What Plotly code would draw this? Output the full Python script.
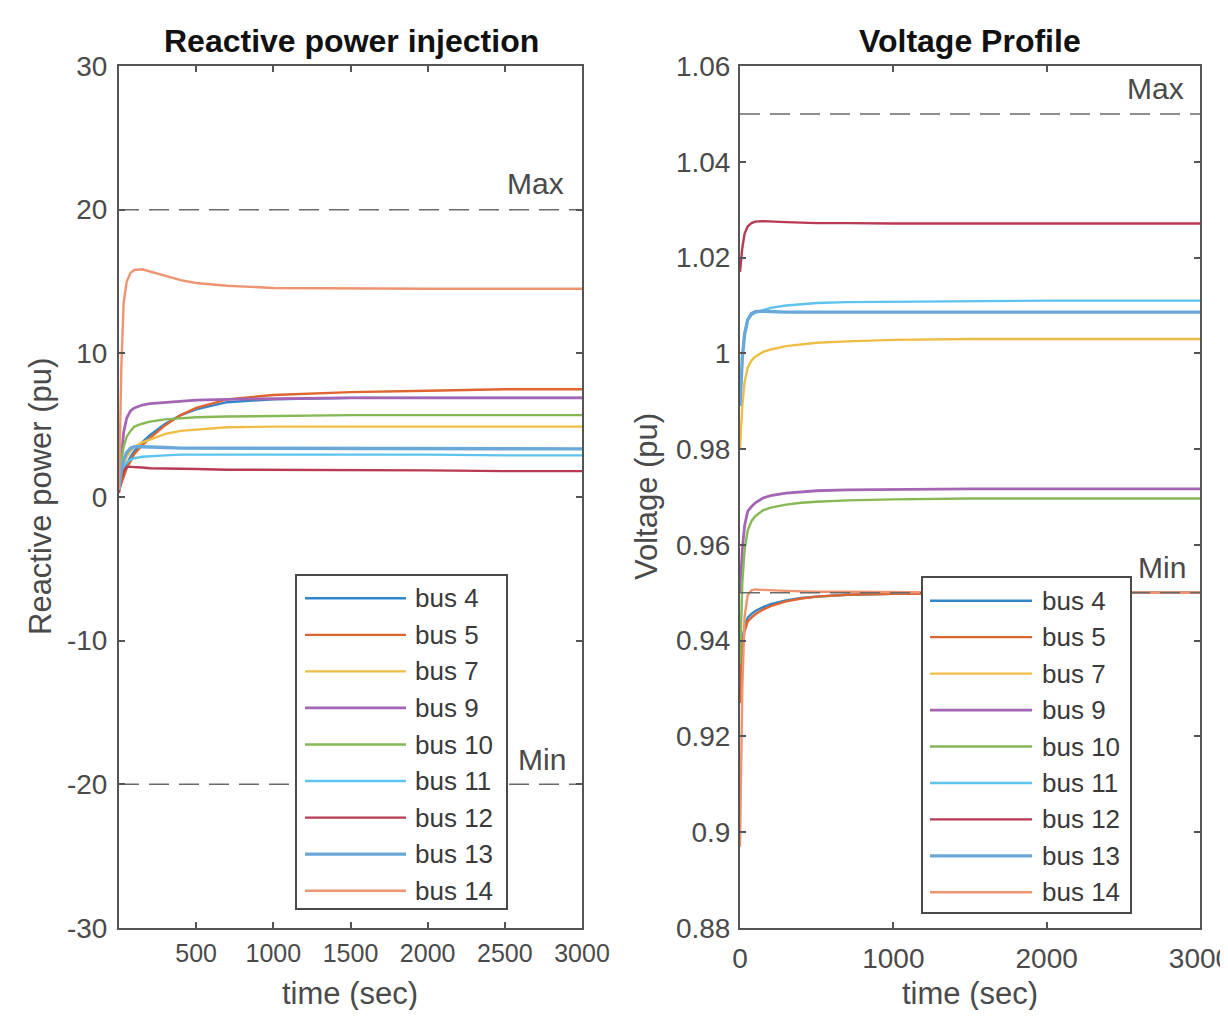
import plotly.graph_objects as go

# ---------------- data ----------------
t = [0, 15, 30, 50, 75, 100, 150, 200, 300, 400, 500, 700, 1000, 1500, 2000, 2500, 3000]

buses = ["bus 4", "bus 5", "bus 7", "bus 9", "bus 10", "bus 11", "bus 12", "bus 13", "bus 14"]
colors = ["#2f86c8", "#de6530", "#efbd45", "#a466b4", "#86b854", "#5cc4ee", "#b83a55", "#6aa8da", "#ef9470"]
widths = [2.4, 2.4, 2.4, 2.8, 2.4, 2.4, 2.4, 3.4, 2.4]

q_bus4 = [0.8, 1.3, 1.8, 2.3, 2.8, 3.2, 3.8, 4.3, 5.1, 5.7, 6.1, 6.6, 6.8, 6.9, 6.9, 6.9, 6.9]
q_bus5 = [0.5, 1.0, 1.5, 2.0, 2.5, 3.0, 3.6, 4.1, 5.0, 5.7, 6.2, 6.8, 7.1, 7.3, 7.4, 7.5, 7.5]
q_bus7 = [0.6, 1.5, 2.2, 2.8, 3.2, 3.5, 3.8, 4.0, 4.4, 4.6, 4.7, 4.85, 4.9, 4.9, 4.9, 4.9, 4.9]
q_bus9 = [0.8, 3.0, 4.5, 5.5, 6.0, 6.2, 6.4, 6.5, 6.6, 6.7, 6.75, 6.8, 6.85, 6.9, 6.9, 6.9, 6.9]
q_bus10 = [0.8, 2.5, 3.5, 4.2, 4.6, 4.9, 5.1, 5.25, 5.4, 5.5, 5.55, 5.6, 5.65, 5.7, 5.7, 5.7, 5.7]
q_bus11 = [0.5, 1.5, 2.1, 2.4, 2.6, 2.7, 2.8, 2.85, 2.9, 2.95, 2.95, 3.0, 3.0, 3.0, 2.95, 2.9, 2.9]
q_bus12 = [0.3, 1.2, 1.8, 2.1, 2.1, 2.1, 2.05, 2.0, 2.0, 1.95, 1.95, 1.9, 1.9, 1.85, 1.85, 1.8, 1.8]
q_bus13 = [0.5, 1.8, 2.6, 3.1, 3.4, 3.5, 3.5, 3.5, 3.45, 3.4, 3.4, 3.4, 3.4, 3.4, 3.4, 3.35, 3.35]
q_bus14 = [0.5, 9.0, 13.5, 15.0, 15.6, 15.8, 15.85, 15.7, 15.4, 15.1, 14.9, 14.7, 14.55, 14.5, 14.5, 14.5, 14.5]

v_bus4 = [0.930, 0.940, 0.943, 0.9448, 0.9456, 0.9462, 0.9470, 0.9476, 0.9484, 0.9489, 0.9492, 0.9496, 0.9498, 0.9500, 0.9500, 0.9500, 0.9500]
v_bus5 = [0.927, 0.939, 0.942, 0.944, 0.9448, 0.9455, 0.9465, 0.9472, 0.9482, 0.9488, 0.9492, 0.9496, 0.9498, 0.9499, 0.9500, 0.9500, 0.9500]
v_bus7 = [0.980, 0.989, 0.994, 0.997, 0.9985, 0.9993, 1.0003, 1.0008, 1.0015, 1.0019, 1.0022, 1.0025, 1.0028, 1.0030, 1.0030, 1.0030, 1.0030]
v_bus9 = [0.950, 0.959, 0.964, 0.967, 0.968, 0.9688, 0.9698, 0.9703, 0.9708, 0.9711, 0.9713, 0.9715, 0.9716, 0.9717, 0.9717, 0.9717, 0.9717]
v_bus10 = [0.935, 0.952, 0.959, 0.963, 0.965, 0.966, 0.9672, 0.9678, 0.9684, 0.9688, 0.9690, 0.9693, 0.9695, 0.9697, 0.9697, 0.9697, 0.9697]
v_bus11 = [0.989, 0.999, 1.004, 1.007, 1.008, 1.0085, 1.0090, 1.0095, 1.0100, 1.0103, 1.0105, 1.0107, 1.0108, 1.0109, 1.0110, 1.0110, 1.0110]
v_bus12 = [1.017, 1.022, 1.025, 1.0265, 1.0272, 1.0275, 1.0276, 1.0275, 1.0274, 1.0273, 1.0272, 1.0272, 1.0271, 1.0271, 1.0271, 1.0271, 1.0271]
v_bus13 = [0.989, 0.999, 1.004, 1.0070, 1.0083, 1.0087, 1.0088, 1.0087, 1.0086, 1.0086, 1.0086, 1.0086, 1.0086, 1.0086, 1.0086, 1.0086, 1.0086]
v_bus14 = [0.897, 0.930, 0.945, 0.9495, 0.9505, 0.9507, 0.9506, 0.9505, 0.9504, 0.9503, 0.9502, 0.9502, 0.9501, 0.9500, 0.9500, 0.9500, 0.9500]

q_series = [q_bus4, q_bus5, q_bus7, q_bus9, q_bus10, q_bus11, q_bus12, q_bus13, q_bus14]
v_series = [v_bus4, v_bus5, v_bus7, v_bus9, v_bus10, v_bus11, v_bus12, v_bus13, v_bus14]

q_limits = [20, -20]
v_limits = [1.05, 0.95]

q_xticks = [500, 1000, 1500, 2000, 2500, 3000]
q_yticks = [-30, -20, -10, 0, 10, 20, 30]
q_yticktext = ["-30", "-20", "-10", "0", "10", "20", "30"]
v_xticks = [0, 1000, 2000, 3000]
v_yticks = [0.88, 0.90, 0.92, 0.94, 0.96, 0.98, 1.00, 1.02, 1.04, 1.06]
v_yticktext = ["0.88", "0.9", "0.92", "0.94", "0.96", "0.98", "1", "1.02", "1.04", "1.06"]

# ---------------- figure ----------------
OFF = 8                       # default page (body) margin
W, H = 1220, 1002
FONT = "Liberation Sans, Arial, Helvetica, sans-serif"
AX = "#555555"
TXT = "#4a4a4a"

def px(x):
    return (x - OFF) / W

def py(y):
    return 1 - (y - OFF) / H

fig = go.Figure()

for name, col, w, q in zip(buses, colors, widths, q_series):
    fig.add_trace(go.Scatter(x=t, y=q, mode="lines", name=name, showlegend=False,
                             line=dict(color=col, width=w), xaxis="x", yaxis="y"))
for name, col, w, v in zip(buses, colors, widths, v_series):
    fig.add_trace(go.Scatter(x=t, y=v, mode="lines", name=name, showlegend=False,
                             line=dict(color=col, width=w), xaxis="x2", yaxis="y2"))

DASH = dict(color="#6a6a6a", width=1.5, dash="20px,10px")
for lim in q_limits:
    fig.add_trace(go.Scatter(x=[0, 3000], y=[lim, lim], mode="lines", showlegend=False,
                             line=DASH, xaxis="x", yaxis="y", hoverinfo="skip"))
for lim in v_limits:
    fig.add_trace(go.Scatter(x=[0, 3000], y=[lim, lim], mode="lines", showlegend=False,
                             line=DASH, xaxis="x2", yaxis="y2", hoverinfo="skip"))

annotations = []
LIMF = dict(size=30, color=TXT, family=FONT)
annotations.append(dict(x=2696, y=21.85, xref="x", yref="y", text="Max", showarrow=False,
                        xanchor="center", yanchor="middle", font=LIMF))
annotations.append(dict(x=2741, y=-18.3, xref="x", yref="y", text="Min", showarrow=False,
                        xanchor="center", yanchor="middle", font=LIMF))
annotations.append(dict(x=2713, y=1.0554, xref="x2", yref="y2", text="Max", showarrow=False,
                        xanchor="center", yanchor="middle", font=LIMF))
annotations.append(dict(x=2752, y=0.9552, xref="x2", yref="y2", text="Min", showarrow=False,
                        xanchor="center", yanchor="middle", font=LIMF))

TITF = dict(size=32, color="#111111", family=FONT)
annotations.append(dict(x=px(351), y=py(41), xref="paper", yref="paper", text="<b>Reactive power injection</b>",
                        showarrow=False, xanchor="center", yanchor="middle", font=TITF))
annotations.append(dict(x=px(970), y=py(41), xref="paper", yref="paper", text="<b>Voltage Profile</b>",
                        showarrow=False, xanchor="center", yanchor="middle", font=TITF))

LABF = dict(size=31, color=TXT, family=FONT)
annotations.append(dict(x=px(350), y=py(993), xref="paper", yref="paper", text="time (sec)",
                        showarrow=False, xanchor="center", yanchor="middle", font=LABF))
annotations.append(dict(x=px(970), y=py(993), xref="paper", yref="paper", text="time (sec)",
                        showarrow=False, xanchor="center", yanchor="middle", font=LABF))
annotations.append(dict(x=px(40), y=py(497), xref="paper", yref="paper", text="Reactive power (pu)",
                        showarrow=False, textangle=-90, xanchor="center", yanchor="middle", font=LABF))
annotations.append(dict(x=px(646), y=py(497), xref="paper", yref="paper", text="Voltage (pu)",
                        showarrow=False, textangle=-90, xanchor="center", yanchor="middle", font=LABF))

shapes = []
# legends drawn MATLAB style (long line samples)
legend_boxes = [(296, 575, 507, 909, 305, 406, 413, 598.3, 36.55),
                (922, 577, 1131, 913, 930, 1032, 1040, 600.7, 36.45)]
for (x0, y0, x1, y1, lx0, lx1, tx, ry0, dy) in legend_boxes:
    shapes.append(dict(type="rect", xref="paper", yref="paper", x0=px(x0), x1=px(x1), y0=py(y0), y1=py(y1),
                       line=dict(color="#4a4a4a", width=2), fillcolor="white", layer="above"))
    for i, (name, col, w) in enumerate(zip(buses, colors, widths)):
        yy = ry0 + i * dy
        shapes.append(dict(type="line", xref="paper", yref="paper", x0=px(lx0), x1=px(lx1),
                           y0=py(yy), y1=py(yy), line=dict(color=col, width=w), layer="above"))
        annotations.append(dict(x=px(tx), y=py(yy), xref="paper", yref="paper", text=name,
                                xanchor="left", yanchor="middle", showarrow=False,
                                font=dict(size=26, color="#3a3a3a", family=FONT)))

axis_common = dict(showline=True, linecolor=AX, linewidth=2, mirror="ticks", ticks="inside",
                   ticklen=6, tickcolor=AX, tickwidth=1.5, showgrid=False, zeroline=False,
                   automargin=False, ticklabeloverflow="allow")
TICKF = dict(size=28, color=TXT, family=FONT)

fig.update_layout(
    width=W, height=H,
    margin=dict(l=0, r=0, t=0, b=0),
    paper_bgcolor="white", plot_bgcolor="white",
    showlegend=False,
    xaxis=dict(domain=[px(119), px(582)], range=[0, 3000], tickvals=q_xticks, anchor="y",
               tickfont=dict(size=25, color=TXT, family=FONT), ticklabelstandoff=2, **axis_common),
    yaxis=dict(domain=[py(928), py(66)], range=[-30, 30], tickvals=q_yticks, ticktext=q_yticktext,
               anchor="x", tickfont=TICKF, ticklabelstandoff=4, **axis_common),
    xaxis2=dict(domain=[px(740), px(1200)], range=[0, 3000], tickvals=v_xticks, anchor="y2",
                tickfont=TICKF, ticklabelstandoff=4, **axis_common),
    yaxis2=dict(domain=[py(928), py(66)], range=[0.88, 1.06], tickvals=v_yticks, ticktext=v_yticktext,
                anchor="x2", tickfont=TICKF, ticklabelstandoff=2, **axis_common),
    annotations=annotations,
    shapes=shapes,
)

fig.write_html("out.html")
